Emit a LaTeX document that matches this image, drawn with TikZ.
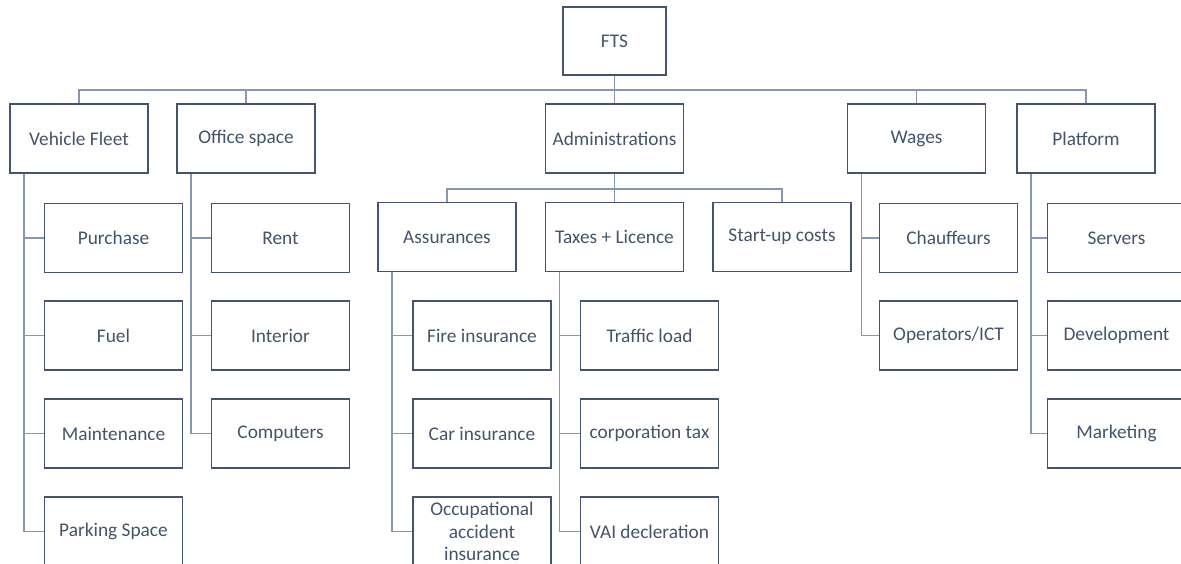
\documentclass[tikz,border=0pt]{standalone}
\usepackage{fontspec}
\setmainfont{Carlito}
\definecolor{boxline}{HTML}{44546A}
\definecolor{wire}{HTML}{8497B0}
\begin{document}
\begin{tikzpicture}[x=0.03cm, y=-0.03cm,
    every node/.style={rectangle, draw=boxline, line width=1.6pt, fill=white, text=boxline,
      minimum width=4.14cm, minimum height=2.07cm, font=\fontsize{16.5}{19}\selectfont, align=center},
    conn/.style={draw=wire, line width=1.2pt}]
    \useasboundingbox (0,0) rectangle (1181,564);
    % Root
    \node[minimum width=3.09cm, minimum height=2.04cm] (fts) at (614.5,41) {FTS};
    \coordinate (bus) at (0,90);
    % First level
    \node (vf) at (79,138.5) {Vehicle Fleet};
    \node (office) at (246,138.5) {Office space};
    \node (admin) at (614.5,138.5) {Administrations};
    \node (wages) at (916.5,138.5) {Wages};
    \node (platform) at (1086,138.5) {Platform};
    % Administrations branch
    \coordinate (adbus) at (0,189);
    \node (assur) at (447,237) {Assurances};
    \node (taxes) at (614.5,237) {Taxes + Licence};
    \node (startup) at (782,237) {Start-up costs};
    % Vehicle Fleet
    \node (purchase) at (113.5,238) {Purchase};
    \node (fuel) at (113.5,335.5) {Fuel};
    \node (maint) at (113.5,433.5) {Maintenance};
    \node (parking) at (113.5,531.5) {Parking Space};
    % Office space
    \node (rent) at (280.5,238) {Rent};
    \node (interior) at (280.5,335.5) {Interior};
    \node (computers) at (280.5,433.5) {Computers};
    % Assurances
    \node (fire) at (482,335.5) {Fire insurance};
    \node (car) at (482,433.5) {Car insurance};
    \node (occup) at (482,531.5) {Occupational\\accident\\insurance};
    % Taxes + Licence
    \node (traffic) at (649.5,335.5) {Traffic load};
    \node (corp) at (649.5,433.5) {corporation tax};
    \node (vai) at (649.5,531.5) {VAI decleration};
    % Wages
    \node (chauf) at (948.5,238) {Chauffeurs};
    \node (oper) at (948.5,335.5) {Operators/ICT};
    % Platform
    \node (servers) at (1116.5,238) {Servers};
    \node (devel) at (1116.5,335.5) {Development};
    \node (market) at (1116.5,433.5) {Marketing};
    % Connectors
    \foreach \c in {vf,office,admin,wages,platform}
        \path[conn] (fts.south) -- (fts.south |- bus) -| (\c.north);
    \foreach \c in {assur,taxes,startup}
        \path[conn] (admin.south) -- (admin.south |- adbus) -| (\c.north);
    \foreach \c in {purchase,fuel,maint,parking}
        \path[conn] ([xshift=0.45cm]vf.south west) |- (\c.west);
    \foreach \c in {rent,interior,computers}
        \path[conn] ([xshift=0.45cm]office.south west) |- (\c.west);
    \foreach \c in {fire,car,occup}
        \path[conn] ([xshift=0.45cm]assur.south west) |- (\c.west);
    \foreach \c in {traffic,corp,vai}
        \path[conn] ([xshift=0.45cm]taxes.south west) |- (\c.west);
    \foreach \c in {chauf,oper}
        \path[conn] ([xshift=0.45cm]wages.south west) |- (\c.west);
    \foreach \c in {servers,devel,market}
        \path[conn] ([xshift=0.45cm]platform.south west) |- (\c.west);
\end{tikzpicture}
\end{document}
